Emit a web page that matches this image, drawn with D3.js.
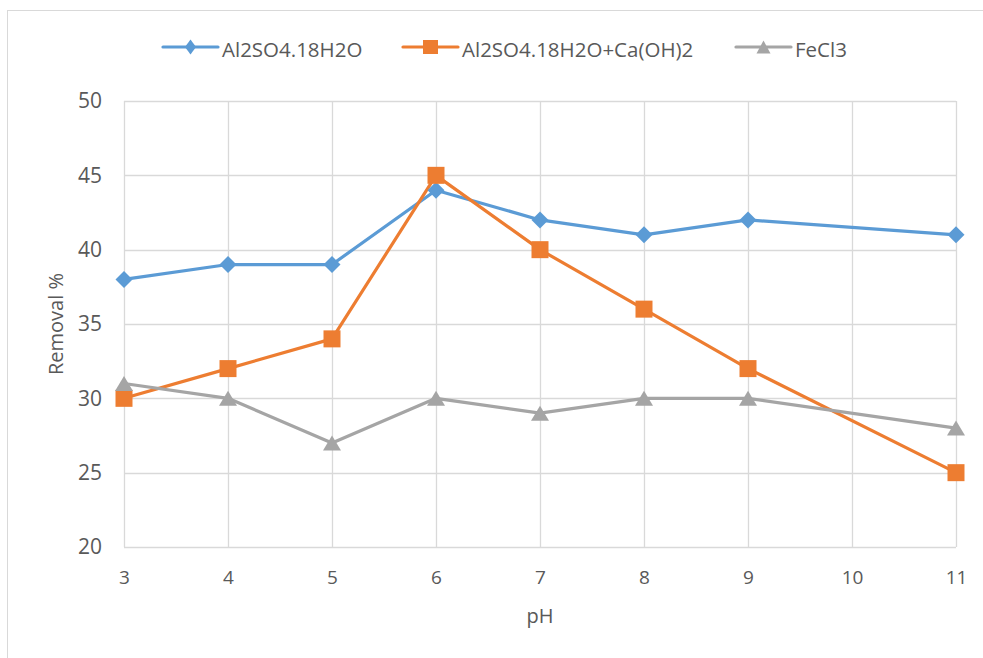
<!DOCTYPE html>
<html><head><meta charset="utf-8">
<script src="https://cdn.jsdelivr.net/npm/d3@7"></script>
<style>body{margin:0;background:#fff;} svg{display:block;font-family:"Open Sans",sans-serif;}</style>
</head><body>
<svg id="c" width="983" height="658"></svg>
<script>
const phValues = [3, 4, 5, 6, 7, 8, 9, 11];
const seriesNames = ["Al2SO4.18H2O", "Al2SO4.18H2O+Ca(OH)2", "FeCl3"];
const alum = [38, 39, 39, 44, 42, 41, 42, 41];
const alumLime = [30, 32, 34, 45, 40, 36, 32, 25];
const ferric = [31, 30, 27, 30, 29, 30, 30, 28];
const xTicks = [3, 4, 5, 6, 7, 8, 9, 10, 11];
const yTicks = [20, 25, 30, 35, 40, 45, 50];
const colors = ["#5B9BD5", "#ED7D31", "#A5A5A5"];

const svg = d3.select("#c");
const M = {l:124, r:956, t:101, b:547};
svg.append("rect").attr("x",7.5).attr("y",10.5).attr("width",1000).attr("height",700)
  .attr("fill","#fff").attr("stroke","#D9D9D9").attr("stroke-width",1);

const x = d3.scaleLinear().domain([3,11]).range([M.l, M.r]);
const y = d3.scaleLinear().domain([20,50]).range([M.b, M.t]);

function markerPath(k, w, h){
  if(k===0) return `M0,${-h}L${w},0L0,${h}L${-w},0Z`;
  if(k===1) return `M${-w},${-h}H${w}V${h}H${-w}Z`;
  return `M0,${-h}L${w},${h}H${-w}Z`;
}
const plotMarker = [[8.5,8.5],[8.5,8.5],[9,7.5]];
const legMarker = [[5.5,7.5],[7.5,7],[7,6.5]];

const g = svg.append("g");
g.selectAll(".vg").data(xTicks).join("line")
  .attr("x1",d=>Math.round(x(d))+0.5).attr("x2",d=>Math.round(x(d))+0.5)
  .attr("y1",M.t).attr("y2",M.b).attr("stroke","#D9D9D9").attr("stroke-width",1.3);
g.selectAll(".hg").data(yTicks).join("line")
  .attr("y1",d=>Math.round(y(d))+0.5).attr("y2",d=>Math.round(y(d))+0.5)
  .attr("x1",M.l).attr("x2",M.r).attr("stroke","#D9D9D9").attr("stroke-width",1.3);

const xAxis = svg.append("g").attr("transform",`translate(0,${M.b})`)
  .call(d3.axisBottom(x).tickValues(xTicks).tickSize(0).tickPadding(24));
const yAxis = svg.append("g").attr("transform",`translate(${M.l},0)`)
  .call(d3.axisLeft(y).tickValues(yTicks).tickSize(0).tickPadding(22));
xAxis.select(".domain").remove();
yAxis.select(".domain").remove();
xAxis.selectAll("text").attr("fill","#595959").style("font-size","19px").style("font-family","'Open Sans',sans-serif");
yAxis.selectAll("text").attr("fill","#595959").style("font-size","21px").style("font-family","'Open Sans',sans-serif");

svg.append("text").attr("x",540).attr("y",623).attr("text-anchor","middle")
  .attr("fill","#595959").style("font-size","20px").text("pH");
svg.append("text").attr("transform",`translate(63,${(M.t+M.b)/2}) rotate(-90)`).attr("text-anchor","middle")
  .attr("fill","#595959").style("font-size","20px").text("Removal %");

const allSeries = [alum, alumLime, ferric];
const line = d3.line().x((d,i)=>x(phValues[i])).y(d=>y(d));
allSeries.forEach((s,k)=>{
  svg.append("path").datum(s).attr("d",line).attr("fill","none")
    .attr("stroke",colors[k]).attr("stroke-width",3.2).attr("stroke-linejoin","round");
});
allSeries.forEach((s,k)=>{
  svg.append("g").selectAll("path").data(s).join("path")
    .attr("transform",(d,i)=>`translate(${x(phValues[i])},${y(d)})`)
    .attr("d",markerPath(k, plotMarker[k][0], plotMarker[k][1]))
    .attr("fill",colors[k]);
});

const legendX = [163, 403, 736];
const leg = svg.append("g");
seriesNames.forEach((n,k)=>{
  const lx = legendX[k], ly = 47;
  leg.append("line").attr("x1",lx).attr("x2",lx+55).attr("y1",ly).attr("y2",ly)
    .attr("stroke",colors[k]).attr("stroke-width",3.2).attr("stroke-linecap","round");
  leg.append("path").attr("transform",`translate(${lx+27.5},${ly})`)
    .attr("d",markerPath(k, legMarker[k][0], legMarker[k][1])).attr("fill",colors[k]);
  leg.append("text").attr("x",lx+59).attr("y",ly+3).attr("dy","0.35em")
    .attr("fill","#595959").style("font-size","20.5px").text(n);
});
</script>
</body></html>
